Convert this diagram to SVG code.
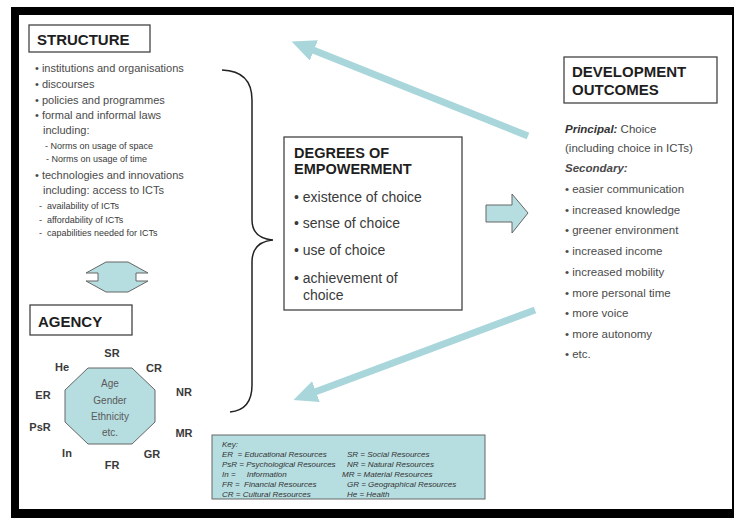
<svg xmlns="http://www.w3.org/2000/svg" width="734" height="518" viewBox="0 0 734 518">
<style>
text{font-family:"Liberation Sans",Arial,sans-serif;}
.title{font-weight:bold;font-size:15px;fill:#1e1e1e;}
.box{fill:#fff;stroke:#444;stroke-width:1.3;}
.li{font-size:11px;fill:#4a4a4a;}
.sub{font-size:9px;fill:#3a3a3a;}
.deg{font-size:14px;fill:#3a3a3a;}
.out{font-size:11.5px;fill:#4a4a4a;}
.lab{font-size:11px;font-weight:bold;fill:#3a3a3a;text-anchor:middle;}
.oct{font-size:10px;fill:#5a5a5a;text-anchor:middle;}
.key{font-size:8px;font-style:italic;fill:#333;}
.teal{fill:#b6dde0;stroke:#666;stroke-width:1;}
.conn{stroke:#a9d6db;stroke-width:7;fill:none;}
</style>
<defs>
<marker id="head" markerUnits="userSpaceOnUse" markerWidth="26" markerHeight="24" refX="1" refY="11" orient="auto">
<path d="M0,0 L24,11 L0,22 Z" fill="#a9d6db"/>
</marker>
</defs>
<rect x="0" y="0" width="734" height="518" fill="#fff"/>
<rect x="11" y="7" width="723" height="511" fill="#000"/>
<rect x="19" y="15" width="713" height="494" fill="#fff"/>

<g id="structure">
<rect class="box" x="29" y="25" width="121" height="27"/>
<text class="title" x="37" y="45">STRUCTURE</text>
<text class="li" x="35" y="72">• institutions and organisations</text>
<text class="li" x="35" y="88">• discourses</text>
<text class="li" x="35" y="104">• policies and programmes</text>
<text class="li" x="35" y="119">• formal and informal laws</text>
<text class="li" x="43" y="134">including:</text>
<text class="sub" x="45" y="149">- Norms on usage of space</text>
<text class="sub" x="46" y="162">- Norms on usage of time</text>
<text class="li" x="35" y="179">• technologies and innovations</text>
<text class="li" x="43" y="194">including: access to ICTs</text>
<text class="sub" x="39" y="209" xml:space="preserve">-  availability of ICTs</text>
<text class="sub" x="39" y="223" xml:space="preserve">-  affordability of ICTs</text>
<text class="sub" x="39" y="236" xml:space="preserve">-  capabilities needed for ICTs</text>
</g>

<g id="agency">
<rect class="box" x="30" y="305" width="102" height="30"/>
<text class="title" x="38" y="327">AGENCY</text>
<polygon class="teal" points="88,368 132,368 155,390 155,422 132,444 88,444 65,422 65,390"/>
<text class="oct" x="110" y="387">Age</text>
<text class="oct" x="110" y="404">Gender</text>
<text class="oct" x="110" y="420">Ethnicity</text>
<text class="oct" x="110" y="436">etc.</text>
<text class="lab" x="112" y="357">SR</text>
<text class="lab" x="62" y="371">He</text>
<text class="lab" x="154" y="372">CR</text>
<text class="lab" x="43" y="399">ER</text>
<text class="lab" x="184" y="396">NR</text>
<text class="lab" x="40" y="431">PsR</text>
<text class="lab" x="184" y="437">MR</text>
<text class="lab" x="67" y="457">In</text>
<text class="lab" x="152" y="458">GR</text>
<text class="lab" x="112" y="469">FR</text>
</g>

<g id="key">
<rect class="teal" x="212" y="435" width="273" height="64" stroke="#444"/>
<text class="key" x="222" y="447">Key:</text>
<text class="key" x="222" y="457" xml:space="preserve">ER  = Educational Resources</text>
<text class="key" x="222" y="467">PsR = Psychological Resources</text>
<text class="key" x="222" y="477" xml:space="preserve">In =     Information</text>
<text class="key" x="222" y="487" xml:space="preserve">FR =  Financial Resources</text>
<text class="key" x="222" y="497">CR = Cultural Resources</text>
<text class="key" x="347" y="457">SR = Social Resources</text>
<text class="key" x="347" y="467">NR = Natural Resources</text>
<text class="key" x="342" y="477">MR = Material Resources</text>
<text class="key" x="347" y="487">GR = Geographical Resources</text>
<text class="key" x="347" y="497">He = Health</text>
</g>

<g id="empowerment">
<rect class="box" x="284" y="137" width="178" height="173"/>
<text class="title" x="294" y="158" style="font-size:14.5px">DEGREES OF</text>
<text class="title" x="294" y="174" style="font-size:14.5px">EMPOWERMENT</text>
<text class="deg" x="294" y="202">• existence of choice</text>
<text class="deg" x="294" y="228">• sense of choice</text>
<text class="deg" x="294" y="255">• use of choice</text>
<text class="deg" x="294" y="283">• achievement of</text>
<text class="deg" x="303" y="300">choice</text>
</g>

<g id="outcomes">
<rect class="box" x="564" y="57" width="153" height="46"/>
<text class="title" x="572" y="77">DEVELOPMENT</text>
<text class="title" x="572" y="95">OUTCOMES</text>
<text class="out" x="565" y="133"><tspan font-weight="bold" font-style="italic" fill="#333">Principal:</tspan> Choice</text>
<text class="out" x="565" y="152">(including choice in ICTs)</text>
<text class="out" x="565" y="172" font-weight="bold" font-style="italic" fill="#333">Secondary:</text>
<text class="out" x="565" y="193">• easier communication</text>
<text class="out" x="565" y="214">• increased knowledge</text>
<text class="out" x="565" y="234">• greener environment</text>
<text class="out" x="565" y="255">• increased income</text>
<text class="out" x="565" y="276">• increased mobility</text>
<text class="out" x="565" y="297">• more personal time</text>
<text class="out" x="565" y="317">• more voice</text>
<text class="out" x="565" y="338">• more autonomy</text>
<text class="out" x="565" y="358">• etc.</text>
</g>

<g id="connectors">
<path d="M222,70 Q252,71 252,100 L252,220 Q252,238 273,240 Q252,242 252,262 L252,385 Q252,410 230,412" fill="none" stroke="#222" stroke-width="1.5"/>
<polygon class="teal" points="106,262 128,262 148,273 136,273 136,281 148,281 128,292 106,292 86,281 98,281 98,273 86,273"/>
<polygon class="teal" points="486,205 512,205 512,194 528,213 512,233 512,222 486,222"/>
<line class="conn" x1="528" y1="136" x2="313" y2="50" marker-end="url(#head)"/>
<line class="conn" x1="535" y1="310" x2="315" y2="392" marker-end="url(#head)"/>
</g>
</svg>
